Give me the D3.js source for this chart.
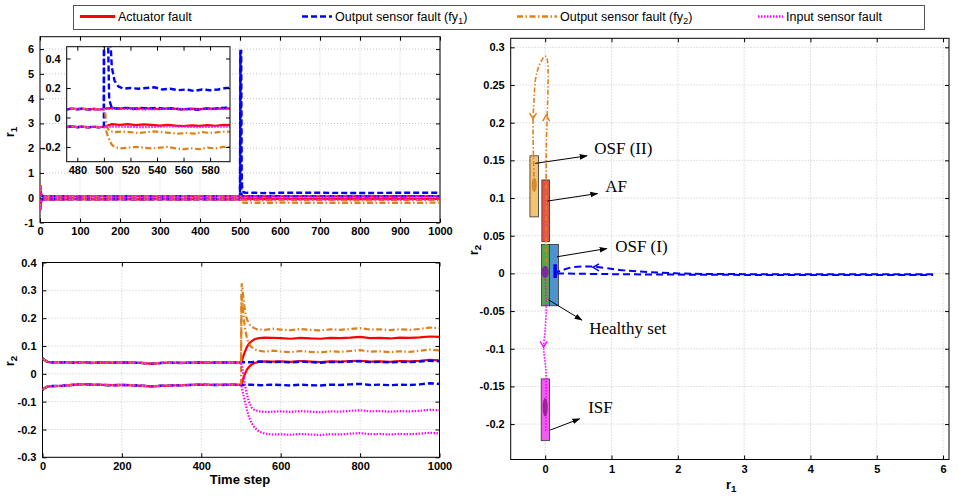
<!DOCTYPE html>
<html>
<head>
<meta charset="utf-8">
<script src="https://cdn.jsdelivr.net/npm/d3@7/dist/d3.min.js"></script>
<style>
  body { margin: 0; background: #fff; }
  svg { display: block; font-family: "Liberation Sans", Arial, sans-serif; }
  .axis text { font: bold 11px "Liberation Sans", Arial, sans-serif; fill: #000; }
  .axis line { stroke: #000; }
  .grid { stroke: #b8b8b8; stroke-width: 0.8; stroke-dasharray: 1,2; }
  .lbl { font: bold 13px "Liberation Sans", Arial, sans-serif; }
  .ann { font: 17px "Liberation Serif", "Times New Roman", serif; }
</style>
</head>
<body>
<svg width="958" height="498"></svg>
<script>
// ---------- data ----------
const legendLabels = ['Actuator fault', 'Output sensor fault (fy_1)', 'Output sensor fault (fy_2)', 'Input sensor fault'];
const faultKeys = ['af', 'fy1', 'fy2', 'isf'];

const timeTicksTop = [0, 100, 200, 300, 400, 500, 600, 700, 800, 900, 1000];
const timeTicksBottom = [0, 200, 400, 600, 800, 1000];
const r1Ticks = [-1, 0, 1, 2, 3, 4, 5, 6];
const r2Ticks = [-0.3, -0.2, -0.1, 0, 0.1, 0.2, 0.3, 0.4];
const insetTimeTicks = [480, 500, 520, 540, 560, 580];
const insetR1Ticks = [-0.2, 0, 0.2, 0.4];
const phaseR1Ticks = [0, 1, 2, 3, 4, 5, 6];
const phaseR2Ticks = [-0.2, -0.15, -0.1, -0.05, 0, 0.05, 0.1, 0.15, 0.2, 0.25, 0.3];

// r1 residual bounds [time step, value] - before the fault all cases coincide
const r1PreUpper = [[0,0.5],[1,0.42],[2,0.25],[4,0.1],[7,0.06],[25,0.055],[50,0.06],[100,0.05],[150,0.06],[200,0.055],[250,0.06],[300,0.05],[350,0.06],[400,0.055],[450,0.06],[472,0.055],[476,0.06],[480,0.056],[484,0.06],[488,0.054],[492,0.058],[496,0.055],[500,0.057]];
const r1PreLower = [[0,-0.5],[1,-0.42],[2,-0.25],[4,-0.1],[7,-0.065],[25,-0.06],[50,-0.065],[100,-0.06],[150,-0.066],[200,-0.06],[250,-0.064],[300,-0.06],[350,-0.066],[400,-0.061],[450,-0.065],[472,-0.065],[476,-0.06],[480,-0.066],[484,-0.062],[488,-0.067],[492,-0.063],[496,-0.066],[500,-0.064]];

const r1AfUpper = [[501,0.06],[506,0.065],[512,0.06],[518,0.066],[524,0.058],[530,0.064],[536,0.06],[542,0.056],[548,0.062],[554,0.058],[560,0.055],[566,0.06],[572,0.056],[578,0.062],[584,0.058],[590,0.063],[596,0.06],[700,0.06],[800,0.058],[900,0.062],[1000,0.06]];
const r1AfLower = [[501,-0.06],[506,-0.045],[512,-0.05],[518,-0.045],[524,-0.052],[530,-0.047],[536,-0.05],[542,-0.055],[548,-0.05],[554,-0.055],[560,-0.058],[566,-0.053],[572,-0.057],[578,-0.052],[584,-0.056],[590,-0.05],[596,-0.052],[700,-0.05],[800,-0.054],[900,-0.05],[1000,-0.052]];
const r1Fy1Upper = [[501,5.92],[503,5.92],[504,1.2],[505,0.5],[506,0.34],[508,0.25],[511,0.21],[515,0.195],[520,0.2],[526,0.195],[532,0.2],[538,0.205],[544,0.19],[550,0.195],[556,0.185],[562,0.19],[568,0.18],[574,0.19],[580,0.185],[586,0.19],[592,0.2],[600,0.2],[700,0.2],[800,0.19],[900,0.2],[1000,0.2]];
const r1Fy1Lower = [[501,5.85],[502,5.0],[503,0.6],[504,0.12],[506,0.065],[510,0.06],[516,0.065],[522,0.058],[528,0.065],[534,0.06],[540,0.066],[546,0.058],[552,0.062],[558,0.055],[564,0.058],[570,0.052],[576,0.06],[582,0.058],[588,0.064],[594,0.066],[600,0.06],[700,0.065],[800,0.06],[900,0.062],[1000,0.065]];
const r1Fy2Upper = [[501,0.03],[502,-0.06],[504,-0.09],[508,-0.1],[514,-0.095],[520,-0.1],[526,-0.105],[532,-0.1],[538,-0.095],[544,-0.1],[550,-0.105],[556,-0.11],[562,-0.105],[568,-0.11],[574,-0.1],[580,-0.105],[586,-0.1],[592,-0.095],[600,-0.1],[700,-0.1],[800,-0.105],[900,-0.1],[1000,-0.095]];
const r1Fy2Lower = [[501,-0.07],[502,-0.1],[504,-0.15],[506,-0.185],[508,-0.2],[512,-0.21],[518,-0.205],[524,-0.2],[530,-0.205],[536,-0.21],[542,-0.205],[548,-0.2],[554,-0.21],[560,-0.215],[566,-0.21],[572,-0.215],[578,-0.205],[584,-0.21],[590,-0.2],[596,-0.2],[700,-0.21],[800,-0.205],[900,-0.21],[1000,-0.2]];
const r1IsfUpper = [[510,0.06],[530,0.055],[550,0.06],[570,0.055],[590,0.058],[700,0.055],[800,0.06],[900,0.055],[1000,0.058]];
const r1IsfLower = [[510,-0.062],[530,-0.066],[550,-0.06],[570,-0.065],[590,-0.062],[700,-0.064],[800,-0.06],[900,-0.065],[1000,-0.062]];

// r2 residual bounds
const r2PreUpper = [[0,0.056],[5,0.05],[12,0.043],[25,0.041],[50,0.042],[75,0.04],[100,0.042],[125,0.039],[150,0.041],[175,0.04],[200,0.041],[225,0.04],[250,0.039],[275,0.036],[300,0.039],[325,0.04],[350,0.039],[375,0.04],[400,0.041],[425,0.04],[450,0.041],[475,0.04],[500,0.041]];
const r2PreLower = [[0,-0.058],[5,-0.052],[12,-0.046],[25,-0.044],[50,-0.043],[75,-0.04],[100,-0.037],[125,-0.039],[150,-0.04],[175,-0.041],[200,-0.04],[225,-0.041],[250,-0.043],[275,-0.045],[300,-0.043],[325,-0.042],[350,-0.041],[375,-0.04],[400,-0.039],[425,-0.04],[450,-0.04],[475,-0.039],[500,-0.04]];

const r2AfUpper = [[502,0.045],[505,0.06],[510,0.08],[515,0.097],[520,0.108],[526,0.117],[534,0.124],[545,0.128],[560,0.13],[580,0.129],[600,0.128],[625,0.126],[650,0.129],[675,0.127],[700,0.126],[725,0.129],[750,0.128],[775,0.13],[800,0.133],[825,0.128],[850,0.129],[875,0.127],[900,0.13],[925,0.129],[950,0.131],[975,0.134],[1000,0.133]];
const r2AfLower = [[502,-0.035],[505,-0.02],[510,0.0],[515,0.015],[520,0.025],[526,0.033],[534,0.039],[545,0.043],[560,0.045],[580,0.044],[600,0.045],[625,0.043],[650,0.046],[675,0.044],[700,0.042],[725,0.045],[750,0.044],[775,0.046],[800,0.047],[825,0.044],[850,0.045],[875,0.043],[900,0.046],[925,0.045],[950,0.047],[975,0.05],[1000,0.048]];
const r2Fy1Upper = [[525,0.042],[550,0.044],[575,0.042],[600,0.043],[625,0.041],[650,0.044],[675,0.042],[700,0.04],[725,0.043],[750,0.042],[775,0.044],[800,0.045],[825,0.042],[850,0.043],[875,0.041],[900,0.043],[925,0.042],[950,0.044],[975,0.047],[1000,0.045]];
const r2Fy1Lower = [[525,-0.039],[550,-0.041],[575,-0.039],[600,-0.04],[625,-0.042],[650,-0.039],[675,-0.041],[700,-0.042],[725,-0.039],[750,-0.04],[775,-0.038],[800,-0.036],[825,-0.04],[850,-0.039],[875,-0.041],[900,-0.039],[925,-0.04],[950,-0.038],[975,-0.034],[1000,-0.036]];
const r2Fy2Upper = [[501,0.29],[502,0.325],[504,0.3],[507,0.26],[510,0.225],[514,0.2],[518,0.185],[524,0.172],[532,0.165],[540,0.16],[560,0.158],[580,0.162],[600,0.159],[625,0.157],[650,0.161],[675,0.158],[700,0.156],[725,0.16],[750,0.158],[775,0.161],[800,0.164],[825,0.159],[850,0.16],[875,0.157],[900,0.16],[925,0.158],[950,0.161],[975,0.166],[1000,0.164]];
const r2Fy2Lower = [[501,0.2],[502,0.28],[504,0.25],[507,0.2],[510,0.165],[514,0.135],[518,0.115],[524,0.1],[532,0.09],[540,0.084],[560,0.08],[580,0.083],[600,0.08],[625,0.078],[650,0.082],[675,0.079],[700,0.077],[725,0.081],[750,0.079],[775,0.082],[800,0.085],[825,0.08],[850,0.081],[875,0.078],[900,0.081],[925,0.079],[950,0.083],[975,0.087],[1000,0.084]];
const r2IsfUpper = [[502,0.03],[505,0.005],[510,-0.04],[515,-0.075],[520,-0.1],[526,-0.12],[534,-0.13],[545,-0.135],[560,-0.137],[580,-0.136],[600,-0.135],[625,-0.137],[650,-0.134],[675,-0.136],[700,-0.138],[725,-0.135],[750,-0.136],[775,-0.133],[800,-0.131],[825,-0.135],[850,-0.134],[875,-0.136],[900,-0.134],[925,-0.135],[950,-0.133],[975,-0.129],[1000,-0.131]];
const r2IsfLower = [[502,-0.05],[505,-0.07],[510,-0.1],[515,-0.13],[520,-0.155],[526,-0.175],[534,-0.193],[545,-0.207],[560,-0.215],[580,-0.218],[600,-0.217],[625,-0.219],[650,-0.216],[675,-0.218],[700,-0.22],[725,-0.217],[750,-0.218],[775,-0.215],[800,-0.213],[825,-0.217],[850,-0.216],[875,-0.218],[900,-0.216],[925,-0.217],[950,-0.215],[975,-0.212],[1000,-0.214]];

// phase plane (r1, r2): sets and trajectories
const setNames = ['OSF (II)', 'AF', 'OSF (I)', 'Healthy set', 'ISF'];
const setR1 = [[-0.23,-0.10],[-0.05,0.065],[0.065,0.2],[-0.055,0.065],[-0.06,0.065]];
const setR2 = [[0.075,0.156],[0.042,0.124],[-0.043,0.0385],[-0.043,0.0385],[-0.222,-0.14]];
const annFrom = [[-0.15,0.146],[0.035,0.096],[0.176,0.022],[0.05,-0.035],[0.075,-0.208]];
const annTo = [[0.63,0.156],[0.79,0.106],[0.93,0.033],[0.553,-0.062],[0.52,-0.193]];
const annAt = [[0.74,0.159],[0.905,0.108],[1.056,0.029],[0.664,-0.08],[0.649,-0.185]];

const trajFy2 = [[0.015,0.0],[0.015,0.15],[0.015,0.288],[-0.02,0.287],[-0.05,0.283],[-0.09,0.276],[-0.12,0.268],[-0.15,0.255],[-0.166,0.234],[-0.182,0.205],[-0.178,0.16],[-0.17,0.13],[-0.166,0.112]];
const trajFy1Out = [[0.18,0.0],[1,-0.001],[3,-0.002],[5.85,-0.002]];
const trajFy1Back = [[5.85,-0.001],[3,-0.001],[2,0.0],[1.2,0.004],[0.7,0.009],[0.4,0.008],[0.25,0.004],[0.18,0.002]];
const trajIsf = [[0.0,0.0],[0.012,-0.03],[0.015,-0.05],[0.0,-0.075],[-0.022,-0.095],[-0.02,-0.105],[0.0,-0.118],[0.015,-0.137],[0.012,-0.17],[0.01,-0.21]];
const clusterFy1 = [[0.15,-0.006],[0.15,0.012]];
// dense point clusters: [r1 centre, r2 low, r2 high]
const blobs = [[0.0,-0.006,0.01],[0.0,-0.19,-0.165],[-0.165,0.108,0.127]];
// direction arrows on trajectories: [r1, r2, direction, case]
const trajArrows = [[-0.184,0.205,'down','fy2'],[0.015,0.21,'up','fy2'],[0.72,0.008,'left','fy1'],[-0.024,-0.098,'down','isf']];

// ---------- styles ----------
const style = {
  af:  { color: '#ff0000', dash: null, w: 2.2 },
  fy1: { color: '#0000ff', dash: '6,3', w: 2.4 },
  fy2: { color: '#e0801a', dash: '6,2.5,1.5,2.5', w: 2.2 },
  isf: { color: '#ff00ff', dash: '1.5,1.5', w: 2.2 }
};
const setFill = ['#f3c272', '#e8524a', '#4e93cf', '#57a24c', '#f05cf0'];
const blobFill = ['#7b2aa3', '#a3209a', '#d98a2b'];

const r1Bounds = {
  af:  [r1PreUpper.concat(r1AfUpper), r1PreLower.concat(r1AfLower)],
  fy1: [r1PreUpper.concat(r1Fy1Upper), r1PreLower.concat(r1Fy1Lower)],
  fy2: [r1PreUpper.concat(r1Fy2Upper), r1PreLower.concat(r1Fy2Lower)],
  isf: [r1PreUpper.concat(r1IsfUpper), r1PreLower.concat(r1IsfLower)]
};
const r2Bounds = {
  af:  [r2PreUpper.concat(r2AfUpper), r2PreLower.concat(r2AfLower)],
  fy1: [r2PreUpper.concat(r2Fy1Upper), r2PreLower.concat(r2Fy1Lower)],
  fy2: [r2PreUpper.concat(r2Fy2Upper), r2PreLower.concat(r2Fy2Lower)],
  isf: [r2PreUpper.concat(r2IsfUpper), r2PreLower.concat(r2IsfLower)]
};

// ---------- helpers ----------
const svg = d3.select('svg');
const defs = svg.append('defs');
const fmt = d => String(Math.round(d * 100) / 100);

const subText = (sel, str) => {
  const m = str.match(/^(.*)_(\w)(.*)$/);
  if (!m) { sel.text(str); return; }
  sel.append('tspan').text(m[1]);
  sel.append('tspan').attr('dy', 3).attr('font-size', '0.75em').text(m[2]);
  if (m[3]) sel.append('tspan').attr('dy', -3).text(m[3]);
};

const clip = (id, x, y) => {
  defs.append('clipPath').attr('id', id).append('rect')
    .attr('x', x.range()[0]).attr('y', y.range()[1])
    .attr('width', x.range()[1] - x.range()[0])
    .attr('height', y.range()[0] - y.range()[1]);
  return `url(#${id})`;
};

const drawAxes = (g, x, y, xTicks, yTicks, grid, pad) => {
  const [x0, x1] = x.range(), [y0, y1] = y.range();
  if (grid) {
    g.append('g').selectAll('line').data(xTicks).join('line')
      .attr('class', 'grid').attr('x1', x).attr('x2', x).attr('y1', y0).attr('y2', y1);
    g.append('g').selectAll('line').data(yTicks).join('line')
      .attr('class', 'grid').attr('y1', y).attr('y2', y).attr('x1', x0).attr('x2', x1);
  }
  const noDomain = s => s.select('.domain').remove();
  g.append('g').attr('class', 'axis').attr('transform', `translate(0,${y0})`)
    .call(d3.axisBottom(x).tickValues(xTicks).tickSize(-4).tickPadding(pad || 5).tickFormat(fmt)).call(noDomain);
  g.append('g').attr('class', 'axis').attr('transform', `translate(0,${y1})`)
    .call(d3.axisTop(x).tickValues(xTicks).tickSize(-4).tickFormat('')).call(noDomain);
  g.append('g').attr('class', 'axis').attr('transform', `translate(${x0},0)`)
    .call(d3.axisLeft(y).tickValues(yTicks).tickSize(-4).tickPadding(6).tickFormat(fmt)).call(noDomain);
  g.append('g').attr('class', 'axis').attr('transform', `translate(${x1},0)`)
    .call(d3.axisRight(y).tickValues(yTicks).tickSize(-4).tickFormat('')).call(noDomain);
  g.append('rect').attr('x', x0).attr('y', y1).attr('width', x1 - x0).attr('height', y0 - y1)
    .attr('fill', 'none').attr('stroke', '#000').attr('stroke-width', 1);
};

const drawBounds = (g, x, y, bounds) => {
  const line = d3.line().x(d => x(d[0])).y(d => y(d[1]));
  faultKeys.forEach(k => {
    g.selectAll(null).data(bounds[k]).join('path')
      .attr('d', line)
      .attr('fill', 'none')
      .attr('stroke', style[k].color)
      .attr('stroke-width', style[k].w)
      .attr('stroke-dasharray', style[k].dash);
  });
};

// ---------- legend ----------
const legend = svg.append('g');
legend.append('rect').attr('x', 73.5).attr('y', 5.5).attr('width', 851).attr('height', 24)
  .attr('fill', '#fff').attr('stroke', '#555');
const legX = [80, 302, 517, 758], legLen = [35, 30, 40, 25];
faultKeys.forEach((k, i) => {
  legend.append('line').attr('x1', legX[i]).attr('x2', legX[i] + legLen[i]).attr('y1', 16.5).attr('y2', 16.5)
    .attr('stroke', style[k].color).attr('stroke-width', k === 'af' ? 3 : 2.5)
    .attr('stroke-dasharray', style[k].dash);
  legend.append('text').attr('x', legX[i] + legLen[i] + 3).attr('y', 21)
    .attr('font-size', 12.5).call(subText, legendLabels[i]);
});

// ---------- r1 vs time ----------
const x1 = d3.scaleLinear().domain([0, 1000]).range([40, 440]);
const y1 = d3.scaleLinear().domain([-1, 6.5]).range([222.5, 36.7]);
const g1 = svg.append('g');
drawAxes(g1, x1, y1, timeTicksTop, r1Ticks, true);
drawBounds(g1.append('g').attr('clip-path', clip('c1', x1, y1)), x1, y1, r1Bounds);
svg.append('text').attr('class', 'lbl').attr('text-anchor', 'middle')
  .attr('transform', 'translate(14,132) rotate(-90)').call(subText, 'r_1');

// inset zoom around the fault instant
const xi = d3.scaleLinear().domain([472, 595]).range([66.7, 230]);
const yi = d3.scaleLinear().domain([-0.3, 0.48]).range([161.7, 46.7]);
const gi = svg.append('g');
gi.append('rect').attr('x', 66.7).attr('y', 46.7).attr('width', 163.3).attr('height', 115).attr('fill', '#fff');
drawBounds(gi.append('g').attr('clip-path', clip('ci', xi, yi)), xi, yi, r1Bounds);
drawAxes(gi, xi, yi, insetTimeTicks, insetR1Ticks, false);

// ---------- r2 vs time ----------
const x2 = d3.scaleLinear().domain([0, 1000]).range([42.5, 439.5]);
const y2 = d3.scaleLinear().domain([-0.3, 0.4]).range([457.3, 262.5]);
const g2 = svg.append('g');
drawAxes(g2, x2, y2, timeTicksBottom, r2Ticks, true);
drawBounds(g2.append('g').attr('clip-path', clip('c2', x2, y2)), x2, y2, r2Bounds);
svg.append('text').attr('class', 'lbl').attr('text-anchor', 'middle')
  .attr('transform', 'translate(14,361) rotate(-90)').call(subText, 'r_2');
svg.append('text').attr('class', 'lbl').attr('font-size', 12).attr('text-anchor', 'middle')
  .attr('x', 240).attr('y', 484).text('Time step');

// ---------- phase plane r1-r2 ----------
const xp = d3.scaleLinear().domain([-0.52, 6.09]).range([510.7, 949]);
const yp = d3.scaleLinear().domain([-0.247, 0.312]).range([459.5, 38.3]);
const gp = svg.append('g');
drawAxes(gp, xp, yp, phaseR1Ticks, phaseR2Ticks, true, 6);
svg.append('text').attr('class', 'lbl').attr('x', 726).attr('y', 489).call(subText, 'r_1');
svg.append('text').attr('class', 'lbl').attr('text-anchor', 'middle')
  .attr('transform', 'translate(478,250) rotate(-90)').call(subText, 'r_2');

const pc = gp.append('g').attr('clip-path', clip('cp', xp, yp));
pc.selectAll('rect.set').data(setNames).join('rect').attr('class', 'set')
  .attr('x', (d, i) => xp(setR1[i][0]))
  .attr('y', (d, i) => yp(setR2[i][1]))
  .attr('width', (d, i) => xp(setR1[i][1]) - xp(setR1[i][0]))
  .attr('height', (d, i) => yp(setR2[i][0]) - yp(setR2[i][1]))
  .attr('fill', (d, i) => setFill[i])
  .attr('stroke', '#333').attr('stroke-width', 0.8);

const pstraight = d3.line().x(d => xp(d[0])).y(d => yp(d[1]));
const pcurve = d3.line().x(d => xp(d[0])).y(d => yp(d[1])).curve(d3.curveCatmullRom);
const trajs = [[trajFy2, 'fy2'], [trajIsf, 'isf'], [trajFy1Out, 'fy1'], [trajFy1Back, 'fy1']];
trajs.forEach(([pts, k]) => {
  pc.append('path').attr('d', pcurve(pts))
    .attr('fill', 'none').attr('stroke', style[k].color)
    .attr('stroke-width', k === 'fy1' ? 2 : 1.6)
    .attr('stroke-dasharray', k === 'fy1' ? '7,4' : k === 'fy2' ? '5,2,1.5,2' : '1.5,1.5');
});
pc.append('path').attr('d', pstraight(clusterFy1)).attr('stroke', style.fy1.color).attr('stroke-width', 3.5);
pc.selectAll('ellipse').data(blobs).join('ellipse')
  .attr('cx', d => xp(d[0])).attr('cy', d => (yp(d[1]) + yp(d[2])) / 2)
  .attr('rx', (d, i) => i === 0 ? 3.5 : 2.5).attr('ry', d => (yp(d[1]) - yp(d[2])) / 2)
  .attr('fill', (d, i) => blobFill[i]);

const dirAngle = { down: 0, up: 180, left: 90 };
pc.selectAll('path.dir').data(trajArrows).join('path').attr('class', 'dir')
  .attr('d', 'M-3.5,-6 L0,0 L3.5,-6')
  .attr('transform', d => `translate(${xp(d[0])},${yp(d[1])}) rotate(${dirAngle[d[2]]})`)
  .attr('fill', 'none').attr('stroke', d => style[d[3]].color).attr('stroke-width', 1.4);

// annotations
defs.append('marker').attr('id', 'ah').attr('viewBox', '0 0 10 10')
  .attr('refX', 9).attr('refY', 5).attr('markerWidth', 8).attr('markerHeight', 8)
  .attr('markerUnits', 'userSpaceOnUse').attr('orient', 'auto')
  .append('path').attr('d', 'M0,1.5 L10,5 L0,8.5 Z').attr('fill', '#000');
gp.selectAll('line.ann-line').data(setNames).join('line').attr('class', 'ann-line')
  .attr('x1', (d, i) => xp(annFrom[i][0])).attr('y1', (d, i) => yp(annFrom[i][1]))
  .attr('x2', (d, i) => xp(annTo[i][0])).attr('y2', (d, i) => yp(annTo[i][1]))
  .attr('stroke', '#000').attr('stroke-width', 1).attr('marker-end', 'url(#ah)');
gp.selectAll('text.ann').data(setNames).join('text').attr('class', 'ann')
  .attr('x', (d, i) => xp(annAt[i][0])).attr('y', (d, i) => yp(annAt[i][1]))
  .text(d => d);
</script>
</body>
</html>
